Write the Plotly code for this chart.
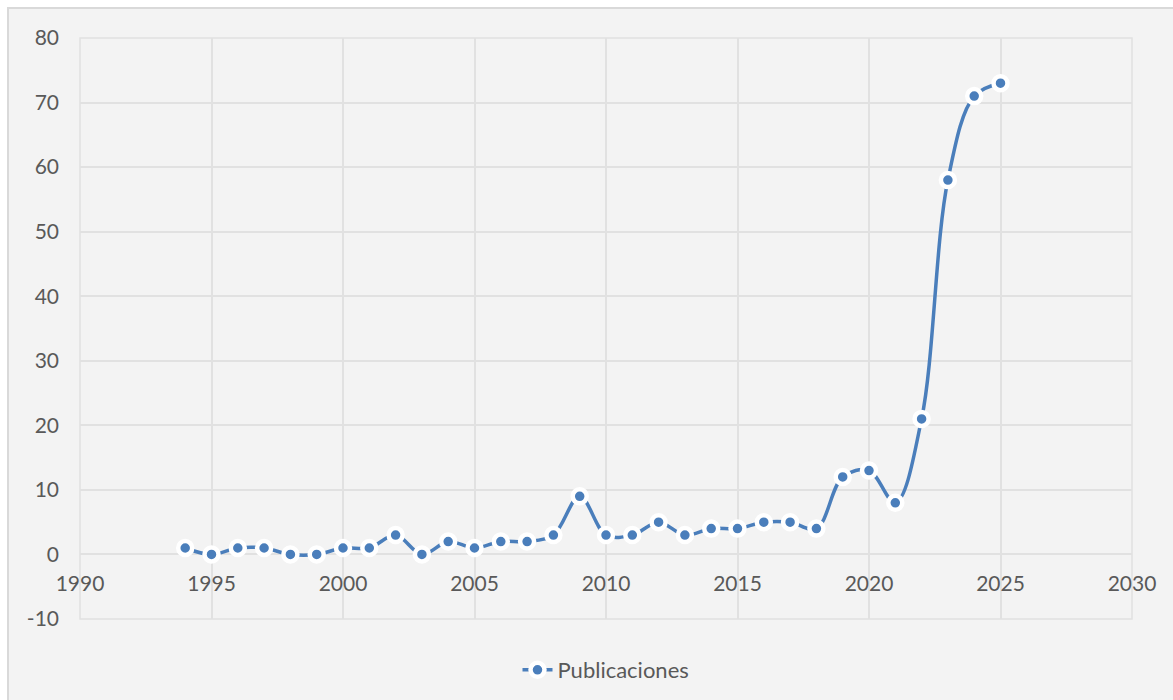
import plotly.graph_objects as go

years = list(range(1994, 2026))
publicaciones = [1, 0, 1, 1, 0, 0, 1, 1, 3, 0, 2, 1, 2, 2, 3, 9, 3, 3, 5, 3, 4, 4, 5, 5, 4, 12, 13, 8, 21, 58, 71, 73]

x_ticks = [1990, 1995, 2000, 2005, 2010, 2015, 2020, 2025, 2030]
y_ticks = [-10, 0, 10, 20, 30, 40, 50, 60, 70, 80]
y_tick_text = ["-10", "0", "10", "20", "30", "40", "50", "60", "70", "80"]

W, H = 1173, 700
L, R, T, B = 80, 41, 38, 81
pw, ph = W - L - R, H - T - B

line_color = "#4A7EBB"
text_color = "#595959"
grid_color = "#E1E1E1"
font_family = "Lato, 'Open Sans', sans-serif"

fig = go.Figure()
fig.add_trace(go.Scatter(
    x=years, y=publicaciones, name="Publicaciones",
    mode="lines+markers",
    line=dict(color=line_color, width=3.5, shape="spline", smoothing=1),
    marker=dict(size=14, color=line_color, line=dict(color="white", width=4.5)),
))

y0_frac = (0 - y_ticks[0]) / (y_ticks[-1] - y_ticks[0])

fig.update_layout(
    width=W, height=H,
    margin=dict(l=L, r=R, t=T, b=B, autoexpand=False),
    paper_bgcolor="white",
    plot_bgcolor="rgba(0,0,0,0)",
    font=dict(family=font_family, size=20, color=text_color),
    showlegend=True,
    legend=dict(orientation="h", x=0.5, xanchor="center", yref="container", y=(H - 670) / H,
                yanchor="middle", font=dict(size=22, color=text_color), bgcolor="rgba(0,0,0,0)"),
    xaxis=dict(range=[x_ticks[0], x_ticks[-1]], tickvals=x_ticks, showgrid=True, gridcolor=grid_color,
               gridwidth=1.5, zeroline=False, showline=False, anchor="free", position=y0_frac,
               ticks="", ticklabelstandoff=15, tickfont=dict(size=21, color=text_color)),
    yaxis=dict(range=[y_ticks[0], y_ticks[-1]], tickvals=y_ticks, ticktext=y_tick_text,
               showgrid=True, gridcolor=grid_color,
               gridwidth=1.5, zeroline=False, showline=False, ticks="", ticklabelstandoff=20,
               tickfont=dict(size=21, color=text_color)),
    shapes=[
        dict(type="rect", xref="paper", yref="paper",
             x0=(8 - L) / pw, x1=(W + 10 - L) / pw, y0=-(H + 10 - (T + ph)) / ph, y1=(T + ph - 8) / ph,
             fillcolor="#F3F3F3", line=dict(color="#D9D9D9", width=2), layer="below"),
        dict(type="rect", xref="paper", yref="paper", x0=0, x1=1, y0=0, y1=1,
             line=dict(color=grid_color, width=1.5), layer="below"),
    ],
)

fig.write_html("out.html")
